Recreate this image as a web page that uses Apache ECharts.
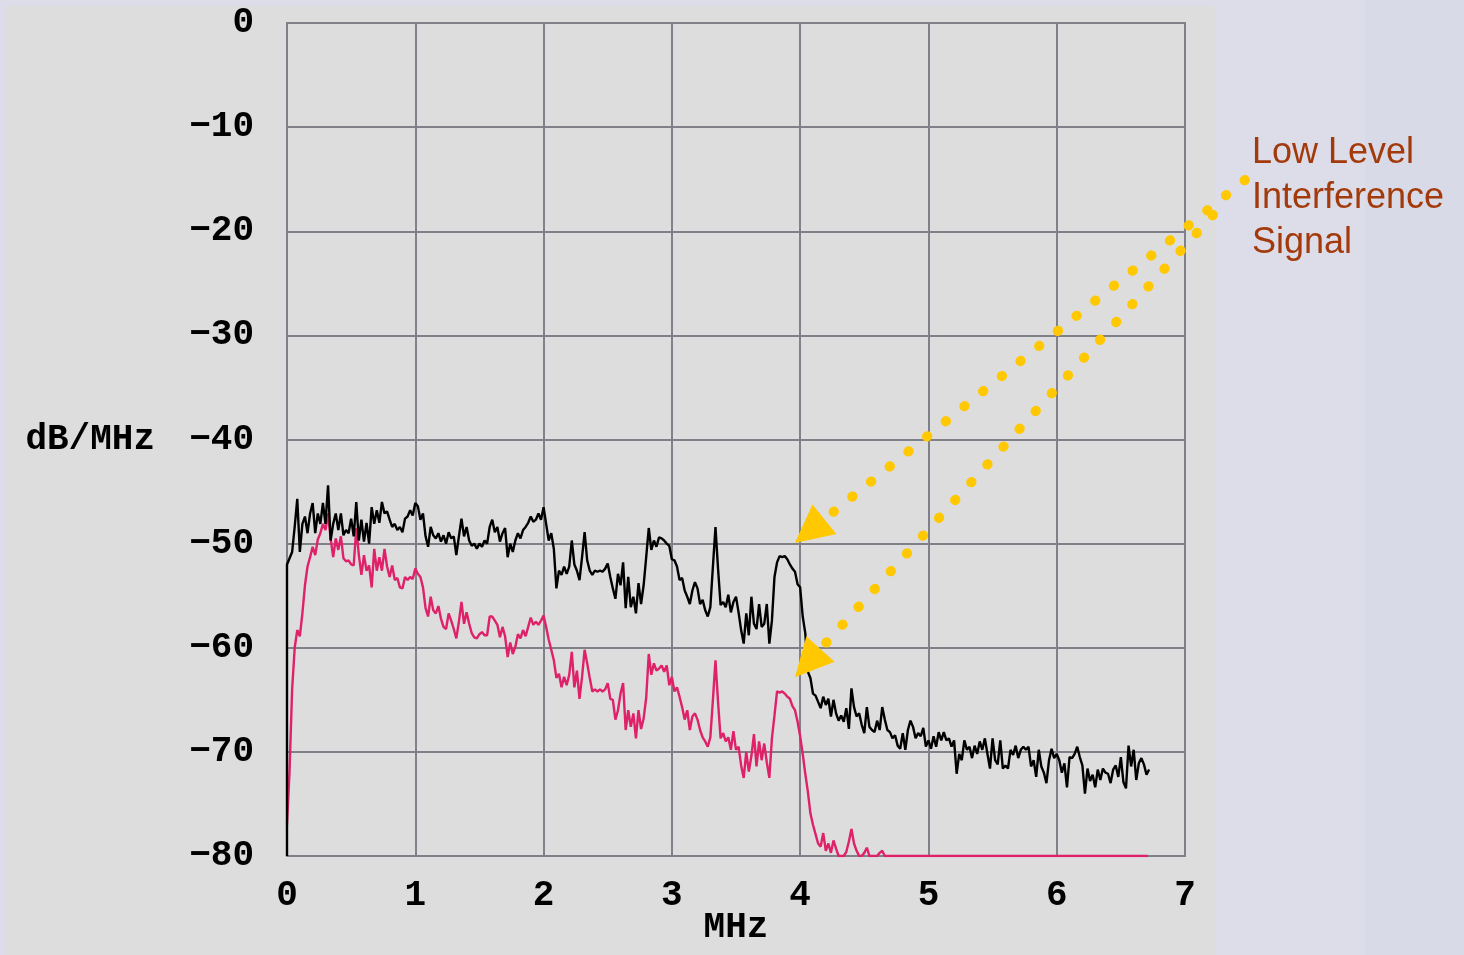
<!DOCTYPE html>
<html>
<head>
<meta charset="utf-8">
<title>Low level interference spectrum</title>
<script src="https://cdn.jsdelivr.net/npm/echarts@6/dist/echarts.min.js"></script>
<style>
  html, body { margin: 0; padding: 0; background: #dcdde9; }
  #panel { position: absolute; left: 6px; top: 6px; width: 1209px; height: 949px; background: #dddddd; }
  #strip { position: absolute; left: 1365px; top: 0; width: 99px; height: 955px; background: #d9dae7; }
  #chart { position: absolute; left: 0; top: 0; width: 1464px; height: 955px; }
</style>
</head>
<body>
<div id="strip"></div>
<div id="panel"></div>
<div id="chart"></div>
<script>
// sampling grid of the two traces (MHz)
const freqStart = 0;
const freqStep = 0.02;

// upper trace (black), dB/MHz, one value per grid step, 0 .. 6.72 MHz (10 values = 0.2 MHz per row)
const blackLevel = [
  -52.0, -51.4, -50.8, -48.4, -45.7, -50.8, -48.1, -47.4, -49.0, -47.1,
  -46.1, -49.0, -47.1, -48.1, -46.1, -48.1, -44.4, -49.7, -48.1, -47.1,
  -48.7, -47.1, -49.2, -48.7, -49.0, -47.6, -49.3, -46.0, -49.7, -47.7,
  -49.8, -48.0, -50.0, -46.5, -48.1, -46.8, -48.0, -46.0, -47.1, -46.9,
  -47.7, -48.4, -48.1, -48.7, -48.4, -48.9, -47.6, -47.4, -46.8, -47.3,
  -46.1, -46.4, -47.7, -47.1, -49.3, -50.3, -48.4, -49.2, -49.5, -49.0,
  -49.8, -49.2, -50.0, -48.9, -49.5, -49.3, -51.1, -49.3, -47.6, -49.3,
  -48.4, -49.7, -50.2, -50.0, -50.5, -50.0, -50.3, -49.7, -50.0, -48.4,
  -47.7, -48.9, -48.4, -49.8, -49.0, -48.5, -51.3, -50.0, -50.8, -49.7,
  -49.0, -49.5, -48.7, -48.4, -48.0, -47.4, -47.9, -47.7, -47.1, -47.7,
  -46.5, -48.1, -49.7, -49.0, -50.5, -54.3, -52.6, -53.0, -52.2, -52.9,
  -52.2, -49.7, -52.0, -52.6, -53.5, -51.3, -48.9, -51.6, -52.6, -53.0,
  -52.6, -52.7, -52.6, -52.7, -52.4, -51.9, -53.2, -54.3, -55.3, -52.9,
  -54.0, -51.8, -56.2, -53.2, -56.1, -55.1, -56.7, -53.8, -55.8, -54.0,
  -51.3, -48.5, -50.6, -49.7, -50.3, -49.4, -49.5, -49.7, -50.0, -50.2,
  -51.5, -51.6, -52.2, -53.5, -53.3, -54.5, -55.1, -55.8, -54.5, -53.7,
  -54.3, -55.8, -55.4, -56.4, -57.0, -56.1, -52.2, -48.4, -52.4, -55.9,
  -55.6, -56.1, -54.9, -56.6, -55.6, -55.1, -56.6, -58.3, -59.6, -56.7,
  -58.8, -55.1, -57.7, -58.2, -55.8, -58.0, -57.7, -55.8, -59.6, -57.4,
  -53.2, -51.8, -51.2, -51.3, -51.2, -51.5, -52.0, -52.4, -52.7, -53.9,
  -54.2, -57.0, -58.6, -62.3, -62.9, -64.4, -64.6, -65.2, -65.8, -64.7,
  -65.5, -64.9, -66.6, -65.0, -66.3, -67.0, -66.5, -67.1, -65.8, -67.8,
  -63.9, -65.7, -66.6, -66.3, -67.4, -68.2, -65.7, -67.6, -67.9, -68.1,
  -67.0, -67.9, -65.7, -66.9, -67.9, -68.1, -68.7, -68.4, -69.4, -69.7,
  -68.2, -69.8, -67.9, -67.0, -67.6, -68.7, -68.2, -68.5, -67.7, -69.5,
  -68.9, -69.7, -68.5, -69.5, -68.1, -68.9, -68.1, -68.9, -68.7, -69.5,
  -68.9, -72.1, -70.2, -70.8, -68.9, -69.8, -69.5, -70.6, -69.4, -70.2,
  -69.0, -69.8, -68.7, -70.2, -71.6, -68.7, -70.8, -71.2, -68.9, -71.6,
  -71.3, -71.6, -69.8, -70.3, -69.4, -70.6, -69.8, -69.5, -69.8, -69.5,
  -71.4, -70.8, -72.4, -69.8, -71.4, -72.0, -73.0, -70.8, -69.7, -70.6,
  -70.2, -70.8, -72.0, -71.1, -73.4, -70.5, -70.6, -70.2, -69.5, -70.5,
  -71.3, -74.0, -71.6, -72.8, -72.2, -73.4, -71.7, -72.7, -71.6, -72.0,
  -72.1, -73.0, -71.7, -71.3, -72.4, -70.5, -72.9, -73.5, -69.4, -71.4,
  -69.8, -72.7, -71.1, -70.6, -71.2, -72.2, -71.7
];

// lower trace (red), same grid, 0 .. 4.66 MHz; after that it lies on the -80 floor
const redLevel = [
  -77.0, -71.8, -64.0, -60.0, -58.3, -58.9, -56.7, -54.0, -52.2, -51.3,
  -50.3, -51.1, -49.6, -49.0, -48.1, -48.7, -47.1, -49.5, -51.3, -49.5,
  -50.6, -49.3, -51.4, -51.7, -51.6, -52.0, -52.1, -48.5, -51.1, -53.0,
  -51.1, -52.6, -52.1, -54.2, -50.5, -52.6, -51.3, -52.6, -50.5, -52.2,
  -53.2, -52.1, -53.5, -53.3, -54.2, -54.3, -53.2, -53.5, -53.2, -53.4,
  -52.4, -52.9, -53.2, -54.2, -56.2, -57.0, -55.1, -56.4, -56.7, -56.0,
  -57.2, -58.0, -58.2, -56.7, -57.4, -58.2, -59.1, -57.5, -55.6, -57.7,
  -56.6, -57.7, -58.6, -59.0, -59.1, -58.7, -58.5, -58.8, -58.8, -57.0,
  -57.0, -57.4, -57.8, -59.0, -58.0, -58.9, -60.9, -59.5, -60.6, -59.9,
  -58.7, -59.1, -58.3, -58.9, -58.0, -57.1, -57.8, -57.5, -57.8, -57.4,
  -56.9, -58.0, -59.2, -60.2, -61.2, -62.9, -62.5, -63.8, -62.8, -63.6,
  -62.6, -60.4, -63.8, -62.2, -64.9, -62.8, -60.2, -61.5, -62.9, -64.2,
  -64.0, -64.2, -64.0, -64.2, -64.0, -63.4, -64.9, -65.0, -66.9, -66.0,
  -64.4, -63.4, -67.9, -66.0, -67.6, -66.3, -68.7, -66.0, -67.8, -66.8,
  -64.8, -60.6, -62.6, -61.5, -62.2, -62.0, -61.7, -62.3, -61.7, -63.6,
  -62.8, -64.2, -63.8, -64.7, -65.7, -66.9, -66.0, -67.9, -66.6, -66.3,
  -66.9, -67.9, -68.6, -69.0, -69.5, -68.6, -65.0, -61.2, -65.2, -68.7,
  -68.2, -69.0, -68.6, -69.8, -68.0, -69.8, -69.5, -71.3, -72.5, -70.0,
  -71.9, -70.4, -68.3, -71.4, -69.0, -70.8, -69.2, -71.0, -72.5, -68.7,
  -66.5, -64.2, -64.3, -64.2, -64.4, -64.7, -64.9, -65.6, -66.0, -67.1,
  -68.5, -70.2, -72.1, -73.8, -75.9, -77.0, -77.9, -78.8, -79.1, -77.8,
  -79.5, -78.8, -79.7, -78.5, -79.3, -80.0, -80.0, -80.0, -79.6, -78.6,
  -77.4, -78.8, -79.5, -80.0, -80.0, -79.7, -79.2, -80.0, -80.0, -80.0,
  -80.0, -79.7, -79.5, -80.0
];

// the black trace rises straight up from the floor at 0 MHz
const blackOnset = [0, -80];
// the red trace runs along the floor until here
const redFloorEnd = [6.71, -80];

// dotted arrows: [start, head centre] in MHz / dB
const arrowPaths = [
  [[7.467, -15.08], [4.074, -48.8]],
  [[7.218, -18.44], [4.059, -61.47]]
];

const noteText = ['Low Level', 'Interference', 'Signal'];

function toPairs(values) {
  return values.map((v, i) => [+(freqStart + i * freqStep).toFixed(2), v]);
}

const gridColor = '#808088';
const monoFont = '"Liberation Mono", "DejaVu Sans Mono", monospace';

const chart = echarts.init(document.getElementById('chart'));
chart.setOption({
  backgroundColor: 'transparent',
  animation: false,
  grid: {
    left: 287, right: 279, top: 23, bottom: 99,
    outerBoundsMode: 'none',
    show: true, borderColor: gridColor, borderWidth: 2
  },
  xAxis: {
    type: 'value',
    min: 0, max: 7, interval: 1,
    name: 'MHz',
    nameLocation: 'middle',
    nameGap: 54,
    nameMoveOverlap: false,
    nameTextStyle: { fontFamily: monoFont, fontSize: 36, fontWeight: 'bold', color: '#000' },
    axisLine: { show: true, lineStyle: { color: gridColor, width: 2 } },
    axisTick: { show: false },
    axisLabel: { margin: 22, fontFamily: monoFont, fontSize: 36, fontWeight: 'bold', color: '#000' },
    splitLine: { show: true, lineStyle: { color: gridColor, width: 2 } }
  },
  yAxis: {
    type: 'value',
    min: -80, max: 0, interval: 10,
    name: 'dB/MHz',
    nameLocation: 'middle',
    nameRotate: 0,
    nameGap: 132,
    nameMoveOverlap: false,
    nameTextStyle: { fontFamily: monoFont, fontSize: 36, fontWeight: 'bold', color: '#000' },
    axisLine: { show: true, lineStyle: { color: gridColor, width: 2 } },
    axisTick: { show: false },
    axisLabel: {
      margin: 33, fontFamily: monoFont, fontSize: 36, fontWeight: 'bold', color: '#000',
      formatter: v => String(v).replace('-', '\u2212')
    },
    splitLine: { show: true, lineStyle: { color: gridColor, width: 2 } }
  },
  series: [
    {
      name: 'red',
      type: 'line',
      data: toPairs(redLevel).concat([redFloorEnd]),
      showSymbol: false,
      lineStyle: { color: '#de2168', width: 2.4 },
      z: 3
    },
    {
      name: 'black',
      type: 'line',
      data: [blackOnset].concat(toPairs(blackLevel)),
      showSymbol: false,
      lineStyle: { color: '#000000', width: 2.4 },
      z: 4
    },
    {
      name: 'arrows',
      type: 'lines',
      coordinateSystem: 'cartesian2d',
      clip: false,
      polyline: false,
      symbol: ['none', 'triangle'],
      symbolSize: [32, 38],
      lineStyle: { color: '#ffc800', width: 10, type: [0.5, 23.5], cap: 'round', opacity: 1 },
      itemStyle: { color: '#ffc800' },
      data: arrowPaths.map(p => ({ coords: p })),
      z: 5
    }
  ],
  graphic: [
    {
      type: 'text',
      left: 1252,
      top: 131,
      style: {
        text: noteText.join('\n'),
        font: '36px "Liberation Sans", Arial, sans-serif',
        fill: '#a33a0c',
        lineHeight: 45
      }
    }
  ]
});
</script>
</body>
</html>
